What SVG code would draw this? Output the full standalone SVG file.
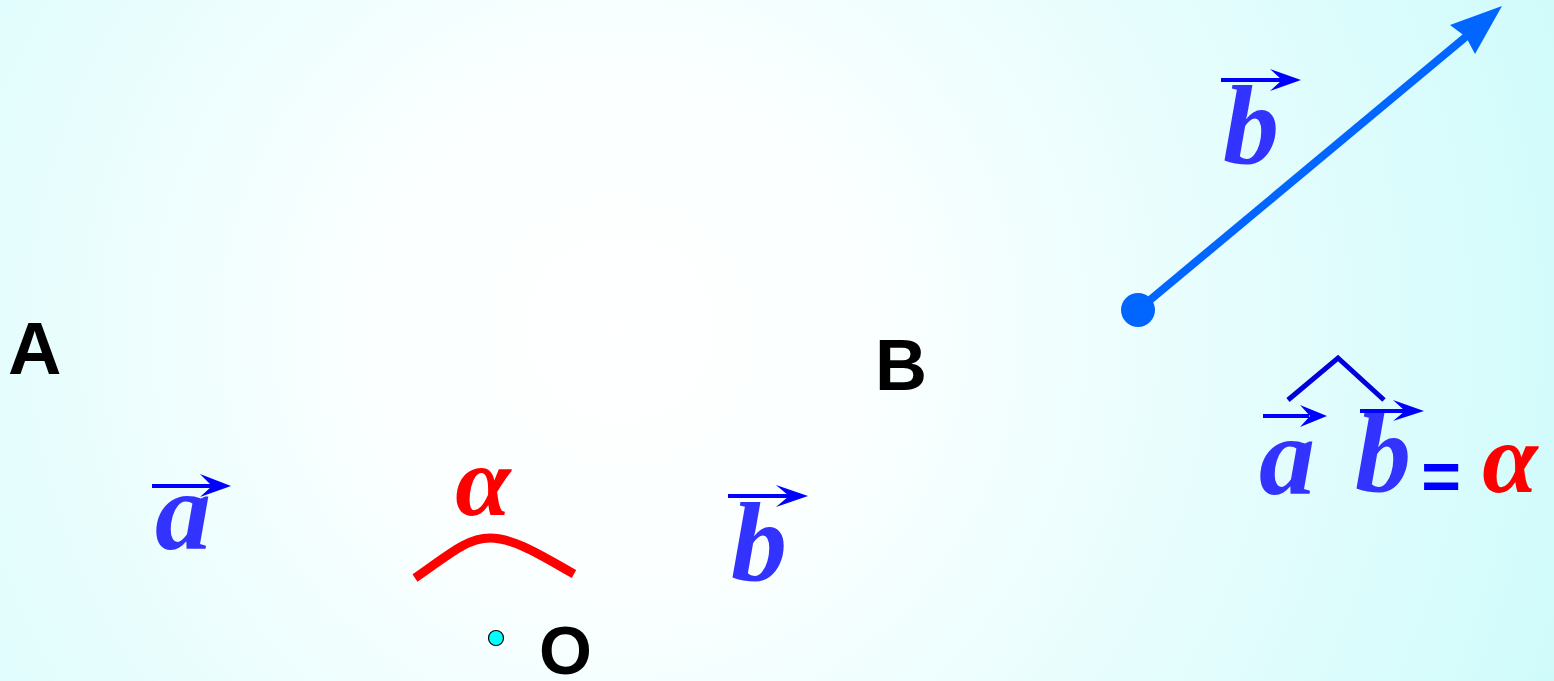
<svg xmlns="http://www.w3.org/2000/svg" width="1554" height="681" viewBox="0 0 1554 681">
<defs>
<radialGradient id="bg" gradientUnits="userSpaceOnUse" cx="620" cy="330" r="1000">
<stop offset="0" stop-color="#ffffff"/>
<stop offset="0.25" stop-color="#fbffff"/>
<stop offset="1" stop-color="#d0fbfb"/>
</radialGradient>
<style>
.lbl{font-family:"Liberation Sans",Arial,sans-serif;font-weight:bold;fill:#000}
.vec{font-family:"Liberation Serif","Times New Roman",serif;font-weight:bold;font-style:italic;fill:#3333ff;text-anchor:middle}
.ang{font-family:"Liberation Serif","Times New Roman",serif;font-weight:bold;font-style:italic;fill:#ff0000;text-anchor:middle}
.vl{stroke:#0000ff;stroke-width:4;fill:none}
.vh{fill:#0000ff;stroke:none}
</style>
</defs>
<rect width="1554" height="681" fill="url(#bg)"/>

<g id="label-A"><text class="lbl" x="8" y="374" font-size="74">A</text></g>
<g id="label-B"><text class="lbl" x="875" y="390" font-size="72">B</text></g>
<g id="label-O"><text class="lbl" x="539" y="674" font-size="68">O</text></g>

<g id="vec-a-left">
<path class="vl" d="M152,486 H214"/>
<path class="vh" d="M231,486 L200,474 L212,486 L200,497 Z"/>
<text class="vec" x="183" y="549" font-size="112">a</text>
</g>

<g id="angle-alpha">
<text class="ang" x="483" y="515" font-size="100">α</text>
<path d="M415,578 C445,558 465,538 490,538 C515,538 545,558 574,574" stroke="#ff0000" stroke-width="9" fill="none"/>
</g>

<g id="point-O"><circle cx="496" cy="638" r="7.5" fill="#00ffff" stroke="#000" stroke-width="1.2"/></g>

<g id="vec-b-left">
<path class="vl" d="M728,496 H790"/>
<path class="vh" d="M808,496 L776,485 L789,496 L776,507 Z"/>
<text class="vec" x="759" y="580" font-size="112">b</text>
</g>

<g id="connectors">
<line x1="1138" y1="310" x2="1468" y2="35" stroke="#0066ff" stroke-width="8"/>
<path d="M1502,6 L1450,25 L1466,37 L1475,54 Z" fill="#0066ff"/>
<circle cx="1138" cy="310" r="17" fill="#0066ff"/>
</g>

<g id="vec-b-top">
<path class="vl" d="M1221,80 H1283"/>
<path class="vh" d="M1301,80 L1270,69 L1282,80 L1270,91 Z"/>
<text class="vec" x="1251" y="163" font-size="112">b</text>
</g>

<g id="formula">
<path d="M1288,400 L1338,358 L1384,400" stroke="#0000dd" stroke-width="5" fill="none"/>
<path class="vl" d="M1263,416 H1309"/>
<path class="vh" d="M1327,416 L1300,405 L1310,416 L1300,427 Z"/>
<text class="vec" x="1287" y="494" font-size="112">a</text>
<path class="vl" d="M1360,411 H1406"/>
<path class="vh" d="M1424,411 L1393,400 L1405,411 L1393,421 Z"/>
<text class="vec" x="1383" y="491" font-size="112">b</text>
<text x="1441" y="500" font-size="68" font-family="Liberation Sans,Arial,sans-serif" font-weight="bold" fill="#0000ff" text-anchor="middle">=</text>
<text class="ang" x="1510" y="492" font-size="100">α</text>
</g>
</svg>
